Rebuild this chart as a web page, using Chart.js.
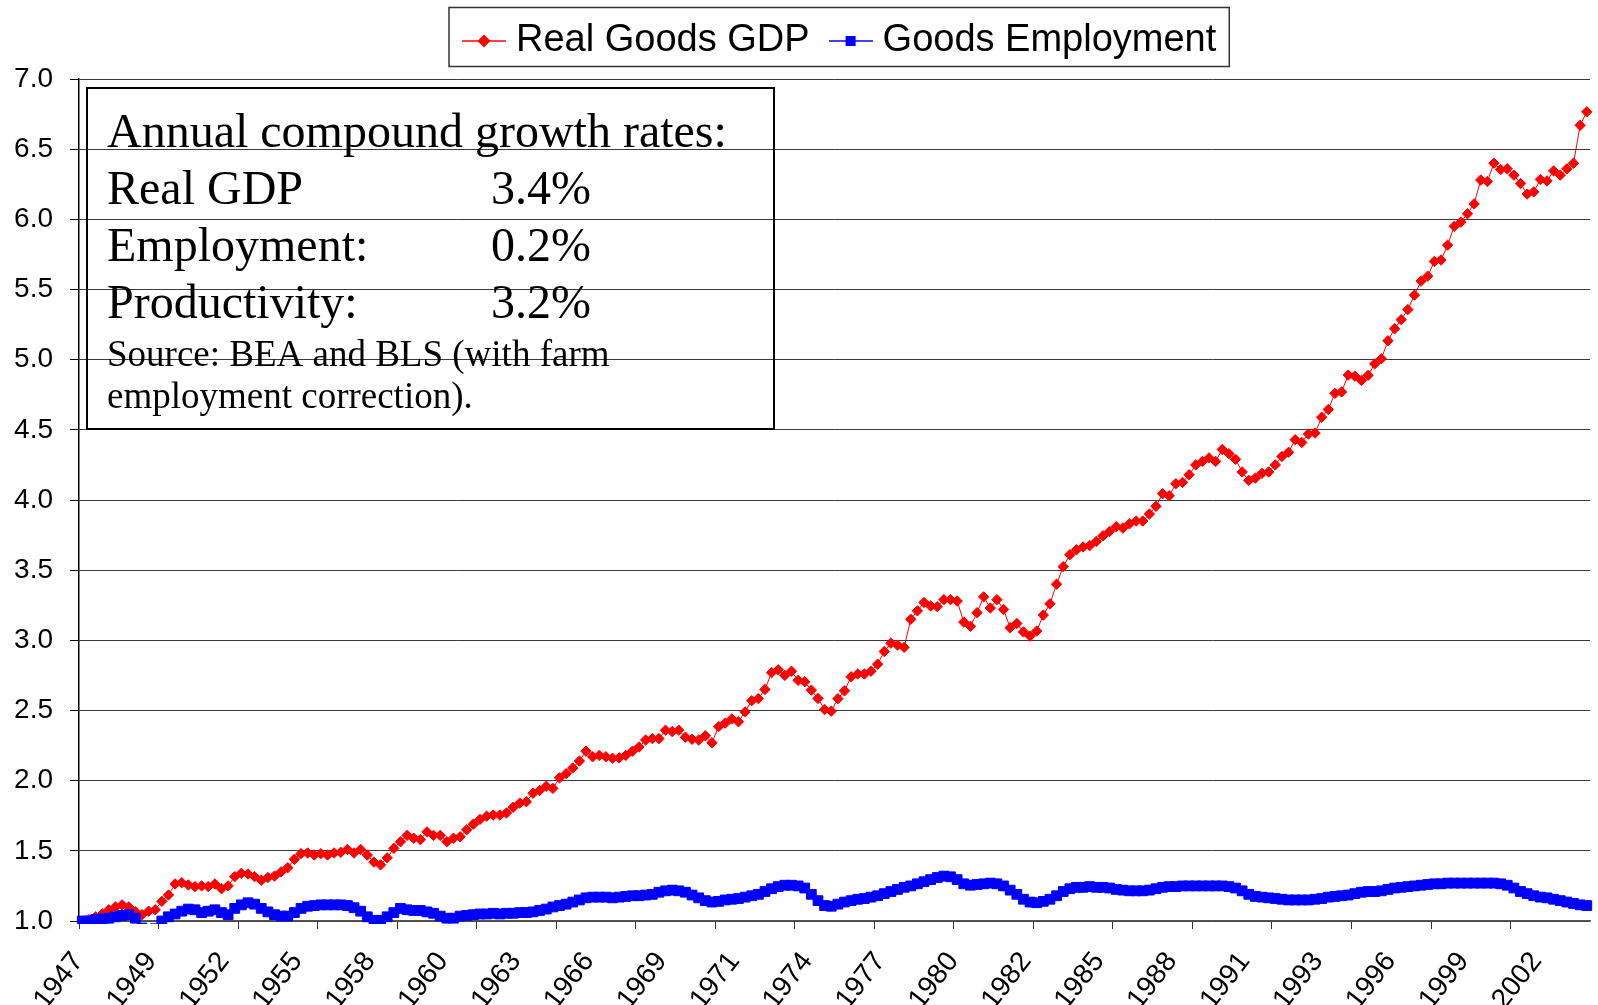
<!DOCTYPE html>
<html>
<head>
<meta charset="utf-8">
<script src="https://cdn.jsdelivr.net/npm/chart.js@4.4.1/dist/chart.umd.min.js"></script>
<style>
html,body{margin:0;padding:0;background:#fff;}
canvas{display:block;}
</style>
</head>
<body>
<canvas id="chart" width="1598" height="1005"></canvas>
<script>
// ---- Data (quarterly, 1947Q1 .. 2003Q4) ----
const startYear = 1947;
const quarterCount = 228;
const labelEvery = 11;      // a year label every 11 quarters
const tickMarkEvery = 12;   // a tick mark every 12 quarters

const categories = [];
for (let i = 0; i < quarterCount; i++) {
  categories.push((startYear + Math.floor(i / 4)) + ' Q' + (i % 4 + 1));
}

const seriesNames = ['Real Goods GDP', 'Goods Employment'];

const realGoodsGDP = [
  1.00,1.01,1.03,1.05,1.08,1.10,1.115,1.10,1.066,1.045,
  1.07,1.08,1.14,1.185,1.264,1.273,1.257,1.245,1.25,1.245,
  1.264,1.23,1.25,1.316,1.34,1.335,1.316,1.29,1.31,1.32,
  1.35,1.38,1.44,1.48,1.485,1.47,1.48,1.47,1.485,1.49,
  1.51,1.485,1.51,1.47,1.42,1.40,1.45,1.518,1.565,1.61,
  1.59,1.58,1.635,1.61,1.61,1.565,1.59,1.60,1.65,1.69,
  1.724,1.747,1.755,1.755,1.77,1.81,1.84,1.85,1.91,1.93,
  1.96,1.945,2.02,2.05,2.09,2.14,2.21,2.17,2.18,2.17,
  2.16,2.163,2.18,2.21,2.24,2.29,2.30,2.30,2.36,2.35,
  2.36,2.31,2.295,2.29,2.32,2.27,2.385,2.41,2.44,2.42,
  2.49,2.57,2.585,2.65,2.77,2.79,2.75,2.78,2.715,2.705,
  2.645,2.586,2.507,2.495,2.584,2.64,2.74,2.76,2.76,2.78,
  2.83,2.92,2.98,2.966,2.95,3.15,3.21,3.27,3.245,3.24,
  3.29,3.29,3.28,3.13,3.10,3.197,3.31,3.23,3.29,3.22,
  3.09,3.12,3.06,3.03,3.066,3.18,3.26,3.40,3.525,3.61,
  3.645,3.665,3.675,3.705,3.745,3.776,3.81,3.80,3.83,3.85,
  3.85,3.90,3.955,4.045,4.03,4.116,4.125,4.18,4.25,4.275,
  4.30,4.275,4.36,4.33,4.29,4.20,4.14,4.156,4.19,4.20,
  4.25,4.31,4.34,4.43,4.41,4.47,4.477,4.59,4.645,4.76,
  4.77,4.89,4.883,4.852,4.888,4.97,5.006,5.135,5.22,5.285,
  5.357,5.46,5.56,5.595,5.70,5.71,5.816,5.95,5.98,6.04,
  6.11,6.28,6.27,6.40,6.355,6.36,6.315,6.255,6.18,6.196,
  6.284,6.274,6.345,6.315,6.36,6.40,6.67,6.766
];

const goodsEmployment = [
  1.00,1.00,1.01,1.015,1.02,1.03,1.04,1.045,1.02,0.95,
  0.935,0.945,1.00,1.03,1.05,1.07,1.085,1.08,1.06,1.07,
  1.08,1.06,1.045,1.09,1.115,1.13,1.12,1.09,1.065,1.045,
  1.035,1.035,1.06,1.09,1.105,1.11,1.115,1.115,1.115,1.115,
  1.11,1.095,1.07,1.03,1.005,1.005,1.03,1.06,1.09,1.08,
  1.075,1.075,1.065,1.055,1.035,1.02,1.02,1.035,1.04,1.045,
  1.05,1.05,1.055,1.05,1.055,1.055,1.06,1.06,1.065,1.075,
  1.085,1.10,1.11,1.12,1.135,1.15,1.165,1.17,1.17,1.17,
  1.165,1.17,1.175,1.18,1.18,1.185,1.19,1.205,1.215,1.22,
  1.215,1.205,1.185,1.165,1.145,1.135,1.14,1.15,1.155,1.16,
  1.17,1.18,1.19,1.21,1.23,1.245,1.255,1.255,1.25,1.235,
  1.19,1.145,1.11,1.105,1.12,1.135,1.145,1.155,1.16,1.17,
  1.18,1.195,1.21,1.225,1.24,1.25,1.265,1.28,1.295,1.31,
  1.32,1.315,1.295,1.265,1.255,1.26,1.265,1.27,1.265,1.25,
  1.22,1.19,1.155,1.135,1.13,1.14,1.155,1.18,1.21,1.23,
  1.24,1.24,1.245,1.24,1.24,1.235,1.225,1.22,1.215,1.215,
  1.215,1.22,1.23,1.24,1.245,1.245,1.25,1.25,1.25,1.25,
  1.25,1.25,1.25,1.245,1.235,1.215,1.19,1.175,1.17,1.165,
  1.16,1.155,1.15,1.15,1.15,1.15,1.155,1.16,1.17,1.175,
  1.18,1.185,1.195,1.205,1.21,1.21,1.215,1.225,1.235,1.24,
  1.245,1.25,1.255,1.26,1.265,1.265,1.27,1.27,1.27,1.27,
  1.27,1.27,1.27,1.27,1.265,1.255,1.235,1.21,1.195,1.18,
  1.17,1.165,1.155,1.145,1.135,1.125,1.115,1.11
];

const yMin = 1.0, yMax = 7.0, yStep = 0.5;

const noteTitle = 'Annual compound growth rates:';
const noteRows = [['Real GDP', '3.4%'], ['Employment:', '0.2%'], ['Productivity:', '3.2%']];
const noteSource = ['Source: BEA and BLS (with farm', 'employment correction).'];

// ---- Styling helpers ----
const SANS = "'Liberation Sans', Arial, sans-serif";
const SERIF = "'Liberation Serif', 'Times New Roman', serif";

function makeLegendIcon(color, shape) {
  const c = document.createElement('canvas');
  c.width = 44; c.height = 16;
  const g = c.getContext('2d');
  g.strokeStyle = color; g.lineWidth = 1.5;
  g.beginPath(); g.moveTo(0, 8); g.lineTo(44, 8); g.stroke();
  g.fillStyle = color;
  if (shape === 'diamond') {
    g.beginPath(); g.moveTo(15.5, 8); g.lineTo(22, 1.5); g.lineTo(28.5, 8); g.lineTo(22, 14.5); g.closePath(); g.fill();
  } else {
    g.fillRect(17, 3, 10, 10);
  }
  return c;
}
const legendIcons = [makeLegendIcon('#ff0000', 'diamond'), makeLegendIcon('#0000ff', 'square')];

const legendPlacement = {
  id: 'legendPlacement',
  afterLayout(chart) {
    const lg = chart.legend;
    if (!lg) return;
    const h = lg.bottom - lg.top;
    lg.left = 443;
    lg.top = -6;
    lg.bottom = lg.top + h;
  },
  afterDraw(chart) {
    const lg = chart.legend;
    if (!lg || !lg.legendHitBoxes || !lg.legendHitBoxes.length) return;
    const hb = lg.legendHitBoxes;
    const last = hb[hb.length - 1];
    const x0 = hb[0].left - 22, x1 = last.left + last.width + 13;
    const ctx = chart.ctx;
    ctx.save();
    ctx.strokeStyle = '#333';
    ctx.lineWidth = 1.5;
    ctx.strokeRect(x0, 7.5, x1 - x0, 59);
    ctx.restore();
  }
};

const noteBox = {
  id: 'noteBox',
  afterDraw(chart) {
    const ctx = chart.ctx;
    ctx.save();
    ctx.strokeStyle = '#000';
    ctx.lineWidth = 2;
    ctx.strokeRect(87, 88, 687, 341);
    ctx.fillStyle = '#000';
    ctx.textBaseline = 'alphabetic';
    ctx.textAlign = 'left';
    ctx.font = '48px ' + SERIF;
    ctx.fillText(noteTitle, 107, 147);
    noteRows.forEach((r, k) => {
      const y = 204 + k * 57;
      ctx.fillText(r[0], 107, y);
      ctx.fillText(r[1], 491, y);
    });
    ctx.font = '37px ' + SERIF;
    ctx.fillText(noteSource[0], 107, 366);
    ctx.fillText(noteSource[1], 107, 408);
    ctx.restore();
  }
};

const ctx = document.getElementById('chart').getContext('2d');
new Chart(ctx, {
  type: 'line',
  data: {
    labels: categories,
    datasets: [
      {
        label: seriesNames[0],
        data: realGoodsGDP,
        borderColor: '#ff0000',
        backgroundColor: '#ff0000',
        borderWidth: 1,
        pointStyle: 'rectRot',
        pointRadius: 5.2,
        pointBorderWidth: 1,
        pointBackgroundColor: '#ff0000',
        pointBorderColor: '#ff0000',
        tension: 0,
        order: 2,
        clip: {left: 8, right: 8, top: 8, bottom: 3}
      },
      {
        label: seriesNames[1],
        data: goodsEmployment,
        borderColor: '#0000ff',
        backgroundColor: '#0000ff',
        borderWidth: 1,
        pointStyle: 'rect',
        pointRadius: 6.9,
        pointBorderWidth: 1,
        pointBackgroundColor: '#0000ff',
        pointBorderColor: '#0000ff',
        tension: 0,
        order: 1,
        clip: {left: 8, right: 8, top: 8, bottom: 3}
      }
    ]
  },
  options: {
    responsive: false,
    animation: false,
    devicePixelRatio: 1,
    layout: { padding: { top: 3, right: 5, left: 0, bottom: 0 } },
    plugins: {
      tooltip: { enabled: false },
      legend: {
        display: true,
        position: 'top',
        align: 'start',
        labels: {
          usePointStyle: true,
          pointStyleWidth: 26,
          padding: 28,
          color: '#000',
          font: { family: SANS, size: 38 },
          generateLabels: (chart) => chart.data.datasets.map((ds, i) => ({
            text: ds.label,
            fillStyle: ds.borderColor,
            strokeStyle: ds.borderColor,
            lineWidth: 0,
            pointStyle: legendIcons[i],
            hidden: false,
            datasetIndex: i,
            fontColor: '#000'
          }))
        }
      }
    },
    scales: {
      x: {
        type: 'category',
        offset: true,
        grid: {
          display: true,
          drawOnChartArea: false,
          drawTicks: true,
          offset: true,
          tickLength: 8,
          tickWidth: 1,
          tickColor: (c) => (c.index % tickMarkEvery === 0) ? '#333' : 'rgba(0,0,0,0)'
        },
        border: { display: true, color: '#555', width: 1.5 },
        ticks: {
          autoSkip: false,
          maxRotation: 52,
          minRotation: 52,
          padding: 17,
          labelOffset: -4,
          color: '#000',
          font: { family: SANS, size: 28 },
          callback: function (value, index) {
            return (index % labelEvery === 0) ? categories[index].slice(0, 4) : '';
          }
        },
        afterFit: (scale) => { scale.height = 84; scale.paddingLeft = 0; scale.paddingRight = 0; }
      },
      y: {
        min: yMin,
        max: yMax,
        ticks: {
          stepSize: yStep,
          padding: 17,
          color: '#000',
          font: { family: SANS, size: 28 },
          callback: (v) => Number(v).toFixed(1)
        },
        grid: {
          color: '#3a3a3a',
          lineWidth: 1,
          drawTicks: true,
          tickLength: 9,
          tickColor: '#000'
        },
        border: { display: true, color: '#000', width: 1.5 },
        afterFit: (scale) => { scale.width = 79; }
      }
    }
  },
  plugins: [legendPlacement, noteBox]
});
</script>
</body>
</html>
